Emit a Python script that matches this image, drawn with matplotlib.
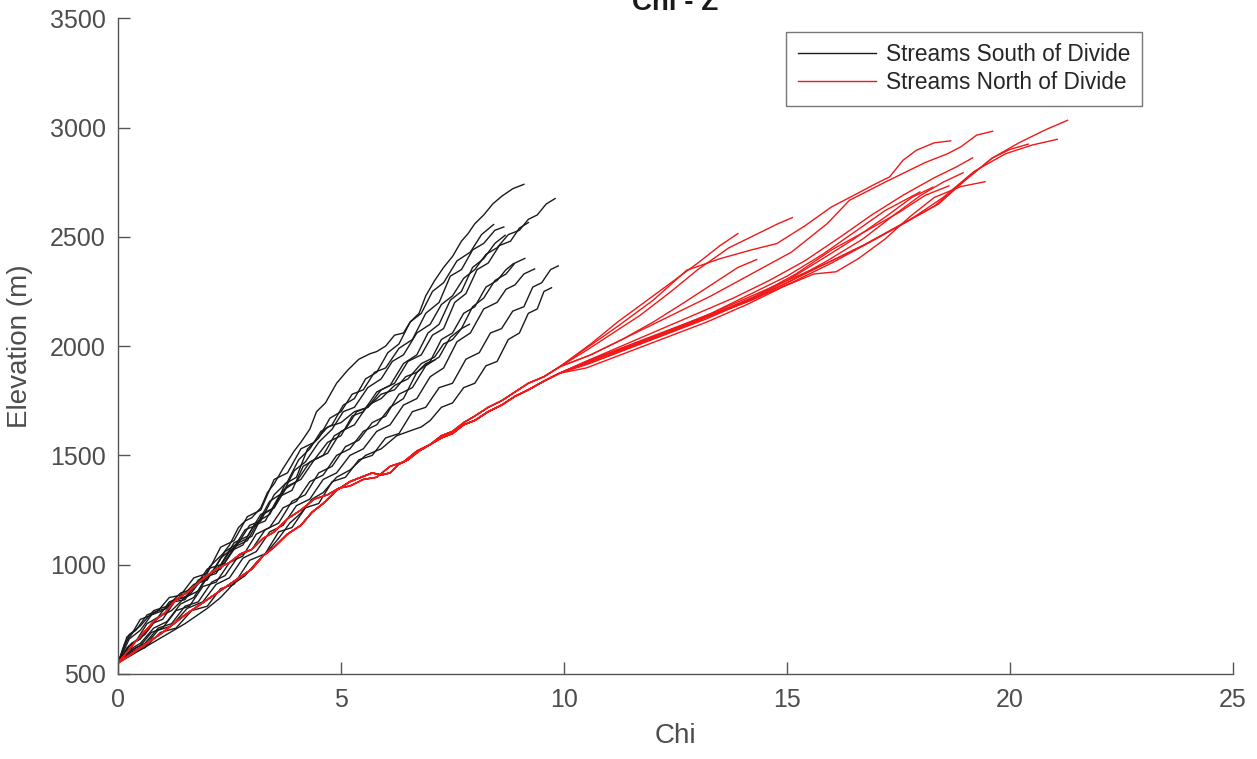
import matplotlib
matplotlib.use("Agg")
import matplotlib.pyplot as plt

plt.rcParams['font.family'] = ['Liberation Sans', 'DejaVu Sans']

# chi-elevation profiles, streams draining south of the divide
south_chi = [
    [0, 0.15, 0.3, 0.5, 0.7, 0.9, 1.1, 1.3, 1.5, 1.7, 1.9, 2.05, 2.2, 2.35, 2.5, 2.7, 2.85, 3.0, 3.2, 3.35, 3.5, 3.7, 3.95, 4.1, 4.3, 4.45, 4.65, 4.9, 5.15, 5.4, 5.65, 5.8, 6.0, 6.2, 6.4, 6.55, 6.75, 6.9, 7.1, 7.3, 7.5, 7.7, 7.85, 8.0, 8.2, 8.4, 8.6, 8.85, 9.1],
    [0, 0.2, 0.4, 0.65, 0.9, 1.15, 1.4, 1.7, 2.0, 2.3, 2.6, 2.85, 3.1, 3.4, 3.7, 3.95, 4.2, 4.5, 4.8, 5.05, 5.3, 5.6, 5.9, 6.15, 6.4, 6.7, 7.0, 7.25, 7.5, 7.75, 8.0, 8.25, 8.5, 8.75, 9.0, 9.2, 9.4, 9.6, 9.8],
    [0, 0.25, 0.5, 0.75, 1.0, 1.25, 1.5, 1.8, 2.1, 2.4, 2.7, 2.95, 3.2, 3.5, 3.8, 4.05, 4.3, 4.55, 4.8, 5.05, 5.3, 5.55, 5.8, 6.05, 6.3, 6.55, 6.8, 7.05, 7.3, 7.6, 7.9, 8.15, 8.42],
    [0, 0.3, 0.6, 0.9, 1.2, 1.5, 1.8, 2.1, 2.4, 2.7, 3.0, 3.25, 3.5, 3.75, 4.0, 4.25, 4.5, 4.75, 5.0, 5.25, 5.5, 5.75, 6.0, 6.3, 6.6, 6.9, 7.2, 7.45, 7.7, 7.95, 8.2, 8.45, 8.65],
    [0, 0.25, 0.5, 0.8, 1.1, 1.4, 1.7, 2.0, 2.3, 2.6, 2.9, 3.15, 3.4, 3.7, 4.0, 4.3, 4.6, 4.85, 5.1, 5.35, 5.6, 5.9, 6.2, 6.5, 6.8, 7.05, 7.3, 7.55, 7.8, 8.05, 8.3, 8.55, 8.8, 9.0, 9.2],
    [0, 0.25, 0.5, 0.75, 1.0, 1.3, 1.6, 1.9, 2.2, 2.5, 2.8, 3.05, 3.3, 3.6, 3.9, 4.15, 4.4, 4.7, 5.0, 5.25, 5.5, 5.8, 6.1, 6.4, 6.7, 6.95, 7.2, 7.45, 7.7, 7.95, 8.2, 8.45, 8.68],
    [0, 0.3, 0.6, 0.9, 1.2, 1.5, 1.8, 2.1, 2.4, 2.7, 3.0, 3.3, 3.6, 3.9, 4.2, 4.5, 4.8, 5.1, 5.4, 5.7, 6.0, 6.3, 6.6, 6.9, 7.2, 7.45, 7.7, 7.95, 8.2, 8.45, 8.7, 8.9, 9.12],
    [0, 0.25, 0.5, 0.75, 1.0, 1.3, 1.6, 1.9, 2.2, 2.5, 2.8, 3.1, 3.4, 3.7, 4.0, 4.3, 4.6, 4.9, 5.2, 5.5, 5.8, 6.1, 6.4, 6.7, 7.0, 7.25, 7.5, 7.75, 8.0, 8.25, 8.5, 8.7, 8.87],
    [0, 0.3, 0.6, 0.9, 1.2, 1.55, 1.9, 2.2, 2.5, 2.8, 3.1, 3.4, 3.7, 4.0, 4.3, 4.6, 4.9, 5.2, 5.5, 5.8, 6.1, 6.4, 6.7, 7.0, 7.3, 7.6, 7.9, 8.2, 8.5, 8.7, 8.9, 9.1, 9.34],
    [0, 0.3, 0.6, 0.95, 1.3, 1.65, 2.0, 2.3, 2.6, 2.95, 3.3, 3.6, 3.9, 4.2, 4.5, 4.8, 5.1, 5.4, 5.7, 6.0, 6.3, 6.6, 6.9, 7.2, 7.5, 7.8, 8.1, 8.35, 8.6, 8.85, 9.1, 9.3, 9.5, 9.7, 9.87],
    [0, 0.5, 1.0, 1.5, 2.0, 2.3, 2.6, 2.85, 3.1, 3.35, 3.6, 3.85, 4.1, 4.35, 4.6, 4.9, 5.2, 5.55, 5.9, 6.25, 6.6, 6.8, 7.0, 7.25, 7.5, 7.75, 8.0, 8.25, 8.5, 8.75, 9.0, 9.2, 9.4, 9.55, 9.72],
    [0, 0.25, 0.5, 0.8, 1.1, 1.4, 1.7, 2.0, 2.3, 2.6, 2.9, 3.2, 3.5, 3.8, 4.1, 4.4, 4.7, 5.0, 5.3, 5.6, 5.9, 6.2, 6.5, 6.8, 7.1, 7.3, 7.5, 7.7, 7.88],
    [0, 0.2, 0.4, 0.65, 0.9, 1.15, 1.4, 1.7, 2.0, 2.3, 2.6, 2.9, 3.2, 3.5, 3.8, 4.1, 4.4, 4.7, 5.0, 5.3, 5.6, 5.9, 6.2, 6.45, 6.7, 6.9, 7.1],
]
south_z = [
    [550, 640, 680, 750, 765, 790, 800, 840, 850, 900, 930, 990, 1020, 1050, 1090, 1170, 1200, 1215, 1260, 1330, 1370, 1440, 1520, 1560, 1620, 1700, 1740, 1830, 1890, 1940, 1965, 1975, 2000, 2050, 2060, 2110, 2150, 2230, 2300, 2360, 2410, 2480, 2515, 2560, 2600, 2650, 2685, 2720, 2740],
    [550, 620, 650, 730, 760, 830, 850, 910, 930, 1030, 1080, 1160, 1180, 1290, 1330, 1430, 1470, 1560, 1620, 1700, 1720, 1810, 1850, 1930, 1960, 2060, 2100, 2190, 2230, 2310, 2350, 2420, 2450, 2510, 2530, 2580, 2600, 2650, 2675],
    [550, 660, 700, 770, 790, 830, 840, 930, 960, 1060, 1100, 1180, 1200, 1320, 1380, 1480, 1530, 1610, 1640, 1730, 1760, 1850, 1880, 1970, 2010, 2110, 2150, 2250, 2290, 2390, 2430, 2510, 2556],
    [550, 640, 680, 760, 790, 850, 880, 970, 1010, 1100, 1130, 1230, 1260, 1370, 1400, 1530, 1580, 1670, 1700, 1780, 1800, 1880, 1900, 1990, 2030, 2150, 2200, 2320, 2350, 2440, 2470, 2530, 2545],
    [550, 610, 640, 710, 740, 820, 850, 950, 980, 1080, 1110, 1200, 1230, 1340, 1380, 1470, 1500, 1590, 1620, 1700, 1720, 1800, 1830, 1930, 1960, 2050, 2080, 2200, 2240, 2350, 2380, 2460, 2480, 2540, 2565],
    [550, 630, 660, 730, 750, 840, 860, 940, 960, 1060, 1090, 1180, 1200, 1310, 1340, 1450, 1480, 1560, 1590, 1680, 1700, 1790, 1820, 1920, 1960, 2060, 2100, 2210, 2250, 2360, 2400, 2470, 2507],
    [550, 610, 640, 710, 730, 810, 830, 920, 950, 1040, 1070, 1160, 1190, 1290, 1320, 1420, 1450, 1540, 1570, 1650, 1680, 1780, 1810, 1910, 1950, 2040, 2080, 2180, 2220, 2300, 2330, 2380, 2401],
    [550, 600, 630, 690, 710, 790, 810, 900, 920, 1010, 1040, 1140, 1170, 1260, 1290, 1380, 1410, 1500, 1530, 1610, 1640, 1720, 1760, 1880, 1930, 2030, 2060, 2150, 2180, 2270, 2300, 2350, 2378],
    [550, 600, 630, 700, 720, 800, 830, 910, 940, 1030, 1060, 1150, 1180, 1270, 1300, 1390, 1420, 1500, 1530, 1610, 1640, 1730, 1760, 1860, 1900, 2020, 2060, 2170, 2200, 2260, 2280, 2330, 2353],
    [550, 595, 620, 690, 710, 790, 810, 890, 910, 1020, 1050, 1150, 1170, 1260, 1280, 1380, 1400, 1480, 1500, 1580, 1600, 1700, 1720, 1810, 1830, 1940, 1970, 2060, 2080, 2160, 2180, 2270, 2290, 2350, 2367],
    [550, 610, 670, 730, 800, 850, 915, 950, 1010, 1060, 1120, 1190, 1236, 1300, 1330, 1400, 1433, 1500, 1530, 1590, 1616, 1630, 1660, 1720, 1740, 1810, 1830, 1910, 1930, 2030, 2060, 2150, 2170, 2250, 2267],
    [550, 680, 720, 790, 810, 870, 890, 980, 1000, 1100, 1130, 1230, 1260, 1360, 1390, 1480, 1510, 1610, 1640, 1730, 1760, 1820, 1850, 1920, 1950, 2010, 2030, 2080, 2100],
    [550, 670, 700, 770, 790, 850, 860, 940, 960, 1080, 1110, 1220, 1250, 1390, 1420, 1530, 1560, 1630, 1650, 1700, 1720, 1780, 1800, 1860, 1880, 1920, 1936],
]

# streams north of the divide share two lower trunks before branching
north_trunk_a_chi = [0, 0.4, 0.8, 1.05, 1.3, 1.6, 1.9, 2.2, 2.5, 2.75, 3.0, 3.25, 3.5, 3.8, 4.1, 4.4, 4.7, 4.95, 5.2, 5.5, 5.8, 6.1, 6.4, 6.7, 7.0, 7.25, 7.5, 7.75, 8.0, 8.3, 8.6, 8.9, 9.2, 9.55, 9.9]
north_trunk_a_z = [550, 650, 740, 780, 840, 880, 935, 980, 1010, 1050, 1070, 1120, 1150, 1210, 1250, 1300, 1320, 1350, 1360, 1390, 1400, 1450, 1470, 1520, 1550, 1590, 1610, 1650, 1680, 1720, 1750, 1790, 1830, 1860, 1905]
north_trunk_b_chi = [0, 0.5, 1.0, 1.5, 2.0, 2.5, 3.0, 3.25, 3.5, 3.8, 4.1, 4.35, 4.6, 4.9, 5.2, 5.45, 5.7, 5.9, 6.1, 6.3, 6.5, 6.75, 7.0, 7.25, 7.5, 7.75, 8.0, 8.3, 8.6, 8.9, 9.2, 9.55, 9.9]
north_trunk_b_z = [550, 620, 690, 770, 840, 910, 980, 1040, 1080, 1140, 1180, 1240, 1280, 1340, 1380, 1400, 1420, 1410, 1420, 1460, 1480, 1520, 1550, 1580, 1600, 1640, 1660, 1700, 1730, 1770, 1800, 1840, 1876]

north_trunk = ['a', 'a', 'a', 'a', 'a', 'b', 'b', 'b', 'b', 'b', 'b', 'b', 'b', 'b']
north_chi = [
    [10.6, 11.2, 11.8, 12.4, 13.0, 13.5, 13.9],
    [10.5, 11.1, 11.7, 12.4, 13.0, 13.7, 14.3, 14.8, 15.12],
    [10.6, 11.3, 12.0, 12.7, 13.3, 13.9, 14.32],
    [10.5, 11.2, 12.0, 12.75, 13.5, 14.2, 14.77, 15.4, 16.0, 16.5, 17.0, 17.3, 17.6, 17.9, 18.3, 18.67],
    [10.6, 11.5, 12.4, 13.3, 14.2, 15.1, 15.9, 16.4, 17.15, 17.6, 18.1, 18.6, 18.9, 19.25, 19.61],
    [10.6, 11.4, 12.2, 13.0, 13.8, 14.6, 15.4, 16.2, 16.9, 17.6, 18.3, 18.8, 19.16],
    [10.5, 11.4, 12.3, 13.2, 14.1, 15.0, 15.9, 16.8, 17.6, 18.4, 19.0, 19.6, 20.2, 20.8, 21.29],
    [10.6, 11.5, 12.4, 13.3, 14.2, 15.1, 16.0, 16.9, 17.7, 18.5, 19.2, 19.9, 20.5, 21.06],
    [10.4, 11.3, 12.2, 13.1, 14.0, 14.9, 15.8, 16.7, 17.5, 18.3, 19.0, 19.6, 20.0, 20.41],
    [10.5, 11.4, 12.3, 13.2, 14.1, 14.9, 15.6, 16.1, 16.6, 17.2, 17.75, 18.3, 18.9, 19.44],
    [10.6, 11.5, 12.4, 13.3, 14.2, 15.1, 15.9, 16.7, 17.4, 18.0, 18.5, 18.95],
    [10.5, 11.4, 12.3, 13.2, 14.1, 15.0, 15.8, 16.5, 17.2, 17.8, 18.27],
    [10.7, 11.6, 12.5, 13.4, 14.3, 15.2, 16.0, 16.8, 17.5, 18.1, 18.63],
    [10.6, 11.5, 12.4, 13.3, 14.2, 15.0, 15.8, 16.5, 17.2, 17.98],
]
north_z = [
    [2010, 2110, 2200, 2290, 2380, 2460, 2515],
    [1980, 2060, 2140, 2250, 2350, 2450, 2510, 2560, 2588],
    [1960, 2030, 2110, 2200, 2280, 2360, 2396],
    [1990, 2090, 2210, 2347, 2400, 2440, 2469, 2550, 2637, 2690, 2744, 2774, 2850, 2896, 2930, 2939],
    [1960, 2050, 2140, 2230, 2330, 2430, 2560, 2667, 2745, 2790, 2840, 2880, 2912, 2965, 2983],
    [1940, 2010, 2080, 2150, 2220, 2300, 2390, 2500, 2600, 2690, 2770, 2820, 2861],
    [1930, 2000, 2070, 2140, 2220, 2300, 2380, 2470, 2560, 2650, 2760, 2860, 2930, 2990, 3033],
    [1935, 2000, 2070, 2140, 2210, 2290, 2380, 2480, 2570, 2680, 2800, 2880, 2920, 2946],
    [1920, 1990, 2060, 2130, 2200, 2280, 2370, 2460, 2550, 2640, 2760, 2860, 2900, 2924],
    [1900, 1970, 2040, 2110, 2190, 2270, 2330, 2340, 2400, 2490, 2591, 2680, 2730, 2752],
    [1925, 1995, 2065, 2140, 2210, 2300, 2390, 2490, 2600, 2690, 2750, 2793],
    [1915, 1985, 2055, 2125, 2205, 2300, 2400, 2490, 2590, 2680, 2727],
    [1940, 2010, 2080, 2150, 2230, 2330, 2440, 2530, 2610, 2690, 2733],
    [1930, 2000, 2075, 2150, 2240, 2320, 2420, 2520, 2620, 2705],
]

fig = plt.figure(figsize=(12.57, 7.59), dpi=100)
ax = fig.add_axes([0.0939, 0.112, 0.887, 0.864])

for i, (cx, cz) in enumerate(zip(south_chi, south_z)):
    ax.plot(cx, cz, color='#1a1a1a', lw=1.0,
            label='Streams South of Divide' if i == 0 else None)

for i, (cx, cz) in enumerate(zip(north_chi, north_z)):
    if north_trunk[i] == 'a':
        tx, tz = north_trunk_a_chi, north_trunk_a_z
    else:
        tx, tz = north_trunk_b_chi, north_trunk_b_z
    ax.plot(tx + cx, tz + cz, color='#f01818', lw=1.0,
            label='Streams North of Divide' if i == 0 else None)

ax.set_xlim(0, 25)
ax.set_ylim(500, 3500)
ax.set_xticks([0, 5, 10, 15, 20, 25])
ax.set_yticks(range(500, 3501, 500))

axis_grey = '#555555'
for side in ['top', 'right']:
    ax.spines[side].set_visible(False)
for side in ['left', 'bottom']:
    ax.spines[side].set_color(axis_grey)
    ax.spines[side].set_linewidth(1.0)
ax.tick_params(direction='in', length=8.5, width=1.0, color=axis_grey,
               labelcolor='#4d4d4d', labelsize=18)
ax.tick_params(axis='x', pad=10)
ax.tick_params(axis='y', pad=9)

ax.set_xlabel('Chi', fontsize=20, color='#4d4d4d', labelpad=8)
ax.set_ylabel('Elevation (m)', fontsize=20, color='#4d4d4d', labelpad=12)
ax.set_title('Chi - Z', fontsize=20, fontweight='bold', color='#1a1a1a', pad=6)

leg = ax.legend(loc='upper right', bbox_to_anchor=(0.918, 0.979), fontsize=16.3,
                handlelength=3.45, frameon=True, fancybox=False,
                borderpad=0.5, labelspacing=0.22, handletextpad=0.45,
                borderaxespad=0)
leg.get_frame().set_edgecolor(axis_grey)
leg.get_frame().set_linewidth(1.0)
for t in leg.get_texts():
    t.set_color('#262626')

fig.savefig('out.png', dpi=100)
